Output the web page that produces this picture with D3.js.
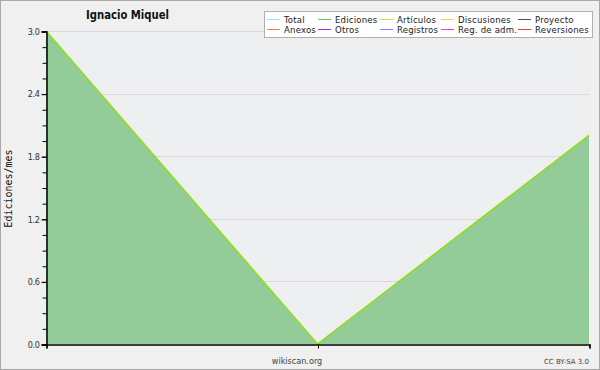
<!DOCTYPE html>
<html>
<head>
<meta charset="utf-8">
<script src="https://cdn.jsdelivr.net/npm/d3@7"></script>
<style>
  body { margin: 0; background: #f0f0f0; }
  svg { display: block; font-family: "DejaVu Sans", sans-serif; }
</style>
</head>
<body>
<script>
// Data.
const title = 'Ignacio Miquel';
const months = [0, 1, 2];
const edits = [3, 0, 2];
const yTicks = [0, 0.6, 1.2, 1.8, 2.4, 3.0];
const legendNames = ['Total', 'Ediciones', 'Artículos', 'Discusiones', 'Proyecto',
  'Anexos', 'Otros', 'Registros', 'Reg. de adm.', 'Reversiones'];
const legendColors = ['#a0e4e4', '#70c070', '#b8f030', '#ffcc33', '#505050',
  '#ff8040', '#9030e0', '#8080ff', '#e040e0', '#ff3030'];

const width = 600;
const height = 370;
const plotLeft = 46, plotRight = 589, plotTop = 31, plotBottom = 344;
const condensed = '"DejaVu Sans Condensed", "DejaVu Sans", sans-serif';

const svg = d3.select('body')
  .append('svg')
  .attr('width', width)
  .attr('height', height);

// Background and frame.
svg.append('rect')
  .attr('x', 0.5).attr('y', 0.5)
  .attr('width', width - 1).attr('height', height - 1)
  .attr('fill', '#f0f0f0')
  .attr('stroke', '#a8a8a8');

svg.append('rect')
  .attr('x', plotLeft).attr('y', plotTop)
  .attr('width', plotRight - plotLeft).attr('height', plotBottom - plotTop)
  .attr('fill', '#eeeff1');

// Scales.
const xScale = d3.scaleLinear()
  .domain(d3.extent(months))
  .range([plotLeft, plotRight]);
const yScale = d3.scaleLinear()
  .domain([0, 3])
  .range([plotBottom, plotTop]);

// Area and line.
const area = d3.area()
  .x((d, i) => xScale(months[i]))
  .y0(yScale(0))
  .y1((d) => yScale(d));
const line = d3.line()
  .x((d, i) => xScale(months[i]))
  .y((d) => yScale(d));

svg.append('path')
  .datum(edits)
  .attr('d', area)
  .attr('fill', '#93cc98');

// Grid lines.
svg.append('g')
  .selectAll('line')
  .data(yTicks.slice(1))
  .enter()
  .append('line')
  .attr('x1', plotLeft).attr('x2', plotRight)
  .attr('y1', (d) => Math.round(yScale(d)) + 0.5)
  .attr('y2', (d) => Math.round(yScale(d)) + 0.5)
  .attr('stroke', '#b0b0b0')
  .attr('stroke-opacity', 0.35);

svg.append('path')
  .datum(edits)
  .attr('d', line)
  .attr('fill', 'none')
  .attr('stroke', '#8ee010')
  .attr('stroke-width', 1.5);

// Axes.
const yAxis = d3.axisLeft(yScale)
  .tickValues(yTicks)
  .tickFormat(d3.format('.1f'))
  .tickSize(5)
  .tickPadding(2);
const yMinor = d3.axisLeft(yScale)
  .tickValues(d3.range(0, 3.01, 0.15))
  .tickFormat('')
  .tickSize(4);

const gy = svg.append('g')
  .attr('id', 'y-axis')
  .attr('transform', 'translate(' + (plotLeft + 0.5) + ',0.5)')
  .call(yAxis);
svg.append('g')
  .attr('transform', 'translate(' + (plotLeft + 0.5) + ',0.5)')
  .call(yMinor)
  .select('.domain').remove();
gy.selectAll('text')
  .attr('font-family', condensed)
  .attr('font-size', 9)
  .attr('letter-spacing', -0.4)
  .attr('fill', '#333');
gy.select('.domain').attr('stroke-width', 1.5);

const xAxis = d3.axisBottom(xScale)
  .tickValues(months)
  .tickFormat('')
  .tickSizeOuter(4)
  .tickSize(4);
const gx = svg.append('g')
  .attr('id', 'x-axis')
  .attr('transform', 'translate(0.5,' + (plotBottom + 0.5) + ')')
  .call(xAxis);
gx.select('.domain').attr('stroke-width', 1.5);

// Texts.
svg.append('text')
  .attr('x', 86).attr('y', 19)
  .attr('font-family', condensed)
  .attr('font-weight', 'bold')
  .attr('font-size', 12.5)
  .attr('textLength', 83)
  .attr('lengthAdjust', 'spacingAndGlyphs')
  .attr('fill', '#111')
  .text(title);

svg.append('text')
  .attr('transform', 'translate(12,' + (plotTop + plotBottom + 2) / 2 + ') rotate(-90)')
  .attr('text-anchor', 'middle')
  .attr('font-family', 'DejaVu Sans Mono')
  .attr('font-size', 10)
  .attr('fill', '#111')
  .text('Ediciones/mes');

svg.append('text')
  .attr('x', 297).attr('y', 364)
  .attr('text-anchor', 'middle')
  .attr('font-family', condensed)
  .attr('font-size', 9)
  .attr('fill', '#444')
  .text('wikiscan.org');

svg.append('text')
  .attr('x', 589).attr('y', 364)
  .attr('text-anchor', 'end')
  .attr('font-size', 7)
  .attr('fill', '#444')
  .text('CC BY-SA 3.0');

// Legend.
const legend = svg.append('g');
legend.append('rect')
  .attr('x', 264.5).attr('y', 11.5)
  .attr('width', 328).attr('height', 26)
  .attr('fill', '#ffffff')
  .attr('stroke', '#b0b0b0');

const colX = [267, 318, 380, 441, 518];
const items = legend.selectAll('g.item')
  .data(legendNames)
  .enter()
  .append('g')
  .attr('class', 'item')
  .attr('transform', (d, i) =>
    'translate(' + colX[i % 5] + ',' + (19 + Math.floor(i / 5) * 10) + ')');
items.append('line')
  .attr('x1', 0).attr('x2', 13)
  .attr('y1', 0.5).attr('y2', 0.5)
  .attr('stroke', (d, i) => legendColors[i]);
items.append('text')
  .attr('x', 17).attr('y', 3.5)
  .attr('font-family', condensed)
  .attr('font-size', 9.5)
  .attr('letter-spacing', 0.2)
  .attr('fill', '#222')
  .text((d) => d);
</script>
</body>
</html>
